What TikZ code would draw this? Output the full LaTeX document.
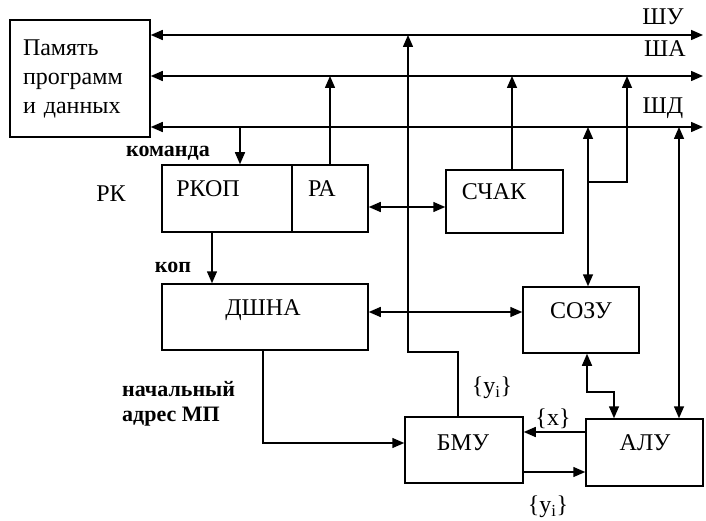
\documentclass[tikz,border=0pt]{standalone}
\usepackage{fontspec}
\setmainfont{Liberation Serif}
\usetikzlibrary{arrows.meta}
\tikzset{
  nd_blk/.style={
    rectangle, draw, line width=1.5pt, inner sep=0pt},
  nd_txt/.style={
    anchor=base, inner sep=0pt, font=\fontsize{24}{28}\selectfont},
  lbl/.style={
    inner sep=0pt, font=\bfseries\fontsize{22}{25}\selectfont},
  bus_lbl/.style={
    anchor=base, inner sep=0pt, font=\fontsize{24}{26}\selectfont},
  set_lbl/.style={
    inner sep=0pt, font=\fontsize{24}{26}\selectfont},
  arr/.style={-{Triangle[length=12pt,width=10pt]},line width=1.5pt},
  dbl/.style={{Triangle[length=12pt,width=10pt]}-{Triangle[length=12pt,width=10pt]},line width=1.5pt},
}

\begin{document}
\begin{tikzpicture}[x=1pt,y=-1pt]

\useasboundingbox (0,0) rectangle (706,521);

%% blocks
\node[nd_blk, minimum width=140pt, minimum height=117pt,
      text width=114pt, align=left, font=\fontsize{24}{29}\selectfont]
      at (80,78.5) (MEM){Память\\программ\\и данных};
\node[nd_blk, minimum width=130pt, minimum height=67pt] at (227,198.5) (RKOP){};
\node[nd_blk, minimum width=76pt,  minimum height=67pt] at (330,198.5) (RA){};
\node[nd_blk, minimum width=117pt, minimum height=63pt] at (504.5,201.5) (SCHAK){};
\node[nd_blk, minimum width=206pt, minimum height=66pt] at (265,317) (DSHNA){};
\node[nd_blk, minimum width=116pt, minimum height=66pt] at (581,320) (SOZU){};
\node[nd_blk, minimum width=118pt, minimum height=66pt] at (464,450) (BMU){};
\node[nd_blk, minimum width=117pt, minimum height=67pt] at (644.5,452.5) (ALU){};

%% block texts
\node[nd_txt] at (208,197) (t_rkop){РКОП};
\node[nd_txt] at (322,197) (t_ra){РА};
\node[nd_txt] at (494,200) (t_schak){СЧАК};
\node[nd_txt] at (263,315) (t_dshna){ДШНА};
\node[nd_txt] at (581,318) (t_sozu){СОЗУ};
\node[nd_txt] at (463,450) (t_bmu){БМУ};
\node[nd_txt] at (645,450) (t_alu){АЛУ};

%% buses
\coordinate (shu) at (703,35);
\coordinate (sha) at (703,76);
\coordinate (shd) at (703,127);
\draw[dbl] (shu -| MEM.east)--(shu);
\draw[dbl] (sha -| MEM.east)--(sha);
\draw[dbl] (shd -| MEM.east)--(shd);
\node[bus_lbl] at (663,25)  (l_shu){ШУ};
\node[bus_lbl] at (665,57)  (l_sha){ША};
\node[bus_lbl] at (663,114) (l_shd){ШД};

%% labels
\node[lbl, anchor=base] at (168,157) (l_cmd){команда};
\node[nd_txt] at (111,202) (l_rk){РК};
\node[lbl, anchor=base] at (173,272) (l_kop){коп};
\node[lbl, anchor=west, align=left] at (122,404) (l_addr){начальный\\адрес МП};
\node[set_lbl] at (492,388) (l_y1){\{y\textsubscript{i}\}};
\node[set_lbl] at (553,419) (l_x){\{x\}};
\node[set_lbl] at (548,507) (l_y2){\{y\textsubscript{i}\}};

%% taps and bends
\coordinate (tap_cmd) at (240,127);
\coordinate (tap_ozu) at (588,127);
\coordinate (tap_oza) at (627,76);
\coordinate (br_ozu)  at (588,182);
\coordinate (tap_alu) at (679,127);
\coordinate (tap_chk) at (512,76);
\coordinate (bend_ctl) at (408,352);
\coordinate (bend_sa) at (614,392);

\draw[arr] (tap_cmd)--(tap_cmd |- RKOP.north);
\draw[arr] (RA.north)--(RA.north |- sha);
\draw[arr] (tap_chk |- SCHAK.north)--(tap_chk);
\draw[arr] ([xshift=-6]BMU.north) |- (bend_ctl)--(bend_ctl |- shu);
\draw[dbl] ([yshift=-8.5]RA.east)--([yshift=-8.5]RA.east -| SCHAK.west);

\draw[dbl] (tap_ozu)--(tap_ozu |- SOZU.north);
\draw[arr] (br_ozu) -| (tap_oza);
\draw[dbl] (tap_alu)--(tap_alu |- ALU.north);

\draw[arr] ([xshift=-15]RKOP.south)--([xshift=-15]RKOP.south |- DSHNA.north);
\draw[dbl] ([yshift=5]DSHNA.east)--([yshift=5]DSHNA.east -| SOZU.west);
\draw[arr] ([xshift=-2]DSHNA.south) |- ([yshift=7]BMU.west);

\draw[dbl] ([xshift=6]SOZU.south) |- (bend_sa)--(bend_sa |- ALU.north);
\draw[arr] ([yshift=20.5]ALU.west)--([yshift=20.5]ALU.west -| BMU.east);
\draw[arr] ([yshift=-22]BMU.east)--([yshift=-22]BMU.east -| ALU.west);

\end{tikzpicture}
\end{document}
